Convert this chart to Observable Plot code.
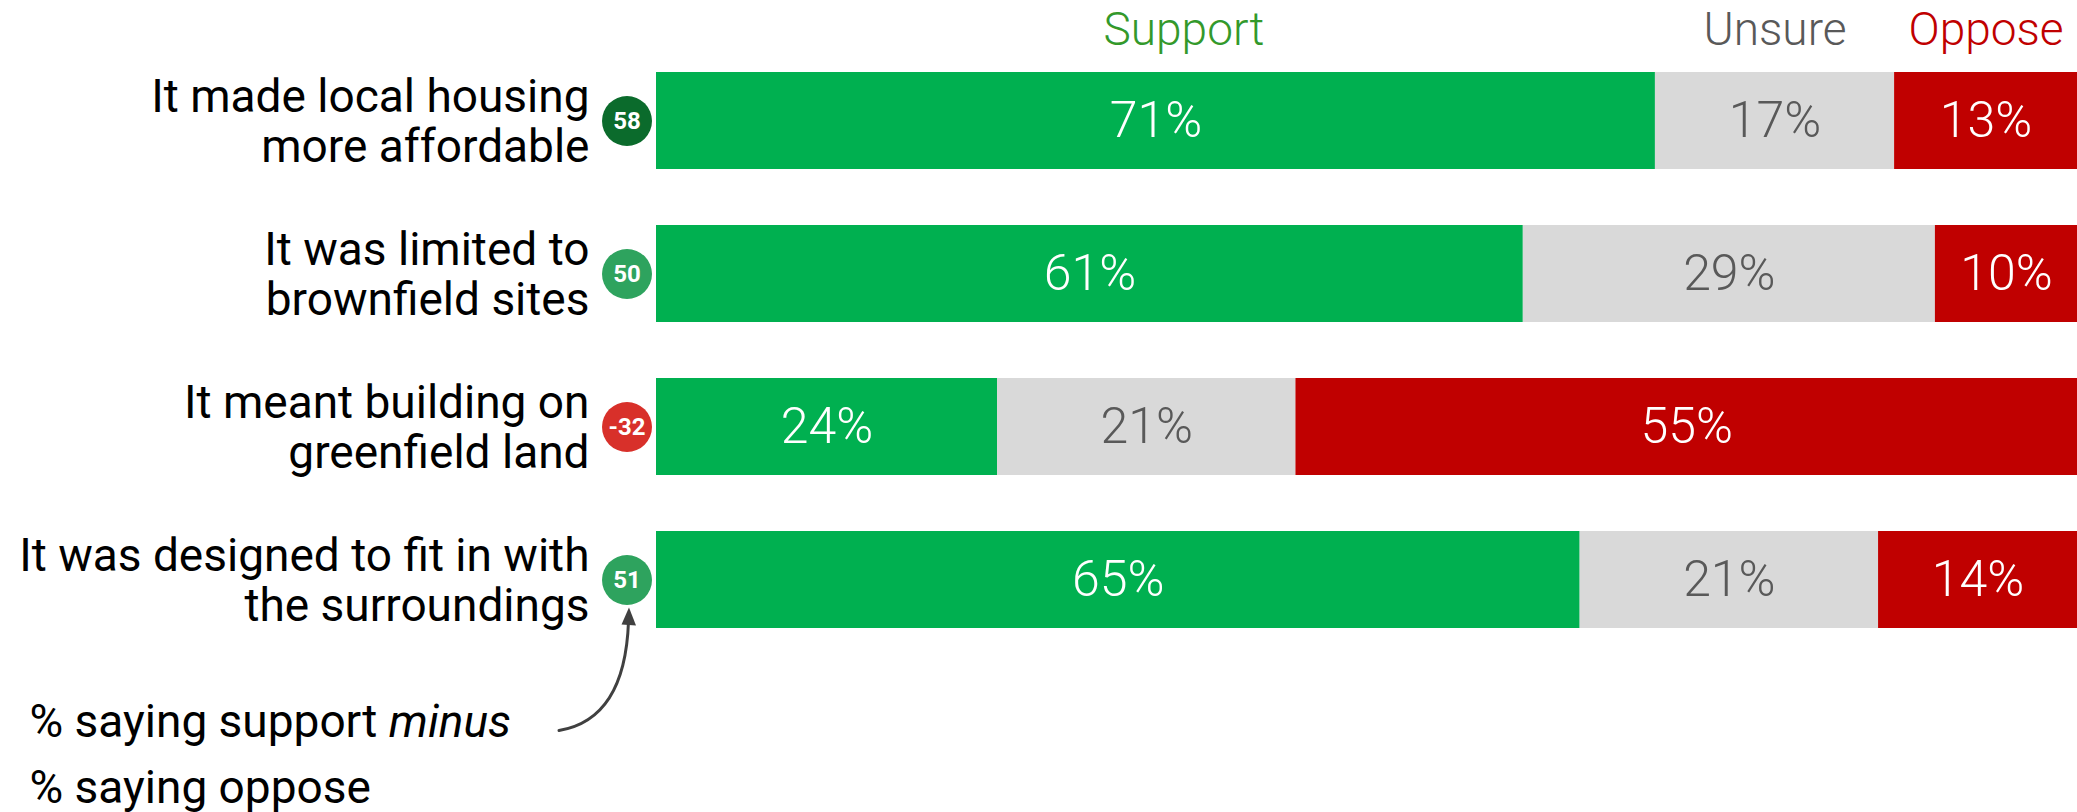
<!DOCTYPE html>
<html><head><meta charset="utf-8">
<script src="https://cdn.jsdelivr.net/npm/d3@7"></script>
<script src="https://cdn.jsdelivr.net/npm/@observablehq/plot@0.6"></script>
<style>
html,body{margin:0;padding:0;background:#fff;}
#chart svg{display:block;}
</style></head><body><div id="chart"></div>
<script>
// ---- data ----
const items = [
  "It made local housing\nmore affordable",
  "It was limited to\nbrownfield sites",
  "It meant building on\ngreenfield land",
  "It was designed to fit in with\nthe surroundings"
];
const categories = ["Support", "Unsure", "Oppose"];
const support = [71, 61, 24, 65];
const unsure  = [17, 29, 21, 21];
const oppose  = [13, 10, 55, 14];
const net     = [58, 50, -32, 51];
const noteLines = ["% saying support minus", "% saying oppose"];

// ---- styles ----
const barColors  = ["#00b050", "#d9d9d9", "#c00000"];
const headColors = ["#33992b", "#595959", "#c00000"];
const FONT = "Roboto, 'Open Sans', sans-serif";

const series = [support, unsure, oppose];
const rows = items.flatMap((item, i) => categories.map((cat, j) => ({item, cat, value: series[j][i]})));
const netRows = items.map((item, i) => ({item, net: net[i]}));

const stackOpts = (extra) => Plot.stackX({x: "value", y: "item", z: "cat", order: categories, offset: "normalize", ...extra});

const headerMarks = categories.map((c, j) => Plot.text(rows, stackOpts({
  text: d => (d.item === items[0] && d.cat === c) ? c : "",
  fill: headColors[j], fontSize: 46, fontWeight: 300,
  dy: -91, dx: c === "Support" ? 28 : 0
})));

const chart = Plot.plot({
  width: 2077, height: 812,
  marginLeft: 656, marginRight: 0, marginTop: 0, marginBottom: 0,
  style: {fontFamily: FONT, background: "#fff", overflow: "visible"},
  x: {domain: [0, 1], axis: null},
  y: {domain: items, range: [71.5, 628.7], paddingInner: 0.368, paddingOuter: 0, axis: null},
  color: {domain: categories, range: barColors},
  marks: [
    Plot.barX(rows, stackOpts({fill: "cat"})),
    Plot.text(rows, stackOpts({
      text: d => d.cat === "Unsure" ? "" : d.value + "%",
      fill: "white", fontSize: 50, fontWeight: 300
    })),
    Plot.text(rows, stackOpts({
      text: d => d.cat === "Unsure" ? d.value + "%" : "",
      fill: "#595959", fontSize: 50, fontWeight: 300
    })),
    ...headerMarks,
    // category labels
    Plot.text(items, {frameAnchor: "left", y: d => d, text: d => d, textAnchor: "end",
      dx: -67, fontSize: 46, lineHeight: 1.09, fill: "#000", fontWeight: 400}),
    // net score circles
    Plot.dot(netRows, {filter: d => d.net >= 55, frameAnchor: "left", y: "item", dx: -29.5, r: 25, fill: "#0b6b2c", stroke: null}),
    Plot.dot(netRows, {filter: d => d.net > 0 && d.net < 55, frameAnchor: "left", y: "item", dx: -29.5, r: 25, fill: "#2ea35e", stroke: null}),
    Plot.dot(netRows, {filter: d => d.net <= 0, frameAnchor: "left", y: "item", dx: -29.5, r: 25, fill: "#d8302a", stroke: null}),
    Plot.text(netRows, {frameAnchor: "left", y: "item", dx: -29.5, text: d => String(d.net),
      textAnchor: "middle", fill: "white", fontSize: 24, fontWeight: 700, letterSpacing: -1}),
    // note
    Plot.text([noteLines[0]], {frameAnchor: "bottom-left", text: d => d, textAnchor: "start",
      dx: -627, dy: -76, fontSize: 46, fill: "#000", fontWeight: 400}),
    Plot.text([noteLines[1]], {frameAnchor: "bottom-left", text: d => d, textAnchor: "start",
      dx: -627, dy: -10, fontSize: 46, fill: "#000", fontWeight: 400})
  ]
});

document.getElementById("chart").appendChild(chart);

// italic "minus"
d3.select(chart).selectAll("text").each(function() {
  const t = this.textContent;
  if (t === noteLines[0]) {
    const parts = t.split(" minus");
    this.textContent = parts[0] + " ";
    d3.select(this).append("tspan").attr("font-style", "italic").text("minus");
  }
});

// curved arrow from the note to the last net circle
const xs = chart.scale("x"), ys = chart.scale("y");
const x0 = xs.apply(0);
const cx = x0 - 29.5;
const cy = ys.apply(items[3]) + ys.bandwidth / 2;
const g = d3.select(chart).append("g").attr("fill", "none").attr("stroke", "#404040");
g.append("path")
  .attr("d", `M${cx - 67.5},${cy + 151} Q${cx - 1.5},${cy + 140} ${cx + 2},${cy + 42}`)
  .attr("stroke-width", 3).attr("stroke-linecap", "round");
g.append("path")
  .attr("d", `M${cx + 2.5},${cy + 28} L${cx + 9.5},${cy + 46} L${cx - 5},${cy + 45} Z`)
  .attr("fill", "#404040").attr("stroke", "none");
</script>
</body></html>
